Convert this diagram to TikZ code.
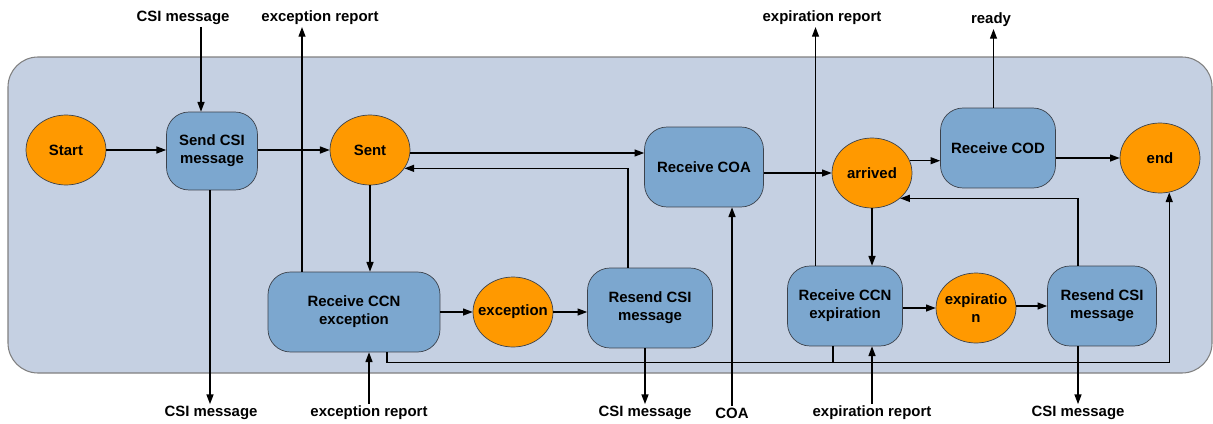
\documentclass[tikz,border=0pt]{standalone}
\usepackage{fontspec}
\setmainfont{Liberation Sans}
\usepackage{xcolor}
\usetikzlibrary{shapes.geometric,arrows.meta,calc}

\definecolor{stateorange}{RGB}{255,153,0}
\definecolor{taskblue}{RGB}{124,167,207}
\definecolor{panelblue}{RGB}{197,208,226}
\definecolor{edgegray}{RGB}{60,66,76}

\begin{document}
\begin{tikzpicture}[
    x=0.02cm, y=-0.02cm,
    txt/.style={font=\fontsize{8.5}{10.2}\selectfont\bfseries},
    state/.style={ellipse, draw=edgegray, fill=stateorange, minimum width=1.6cm, minimum height=1.4cm, inner xsep=-0.2cm, inner ysep=0pt, align=center, txt},
    task/.style={rectangle, draw=edgegray, fill=taskblue, rounded corners=0.45cm, minimum width=#1, minimum height=1.6cm, align=center, txt},
    task/.default=2.3cm,
    lbl/.style={inner sep=1pt, txt},
    arr/.style={-{Triangle[length=5.5pt,width=4pt]}, line width=0.7pt},
    link/.style={line width=0.7pt}
]
    \useasboundingbox (0,0) rectangle (1213,423);

    % Panel
    \draw[draw=gray, fill=panelblue, rounded corners=0.6cm, line width=0.6pt] (8,57) rectangle (1212,373);

    % Row 1 — main flow
    \node[state]                            (start)   at (66,150)   {Start};
    \node[task=1.82cm, minimum height=1.56cm] (sendcsi) at (212,151) {Send CSI\\message};
    \node[state]                            (sent)    at (370,150)  {Sent};
    \node[task=2.38cm]                      (recvcoa) at (704,167)  {Receive COA};
    \node[state]                            (arrived) at (872,173)  {arrived};
    \node[task=2.3cm]                       (recvcod) at (998,148)  {Receive COD};
    \node[state]                            (endst)   at (1160,158) {end};

    % Row 2 — exception / expiration handling
    \node[task=3.44cm] (ccnexc)  at (354,312)  {Receive CCN\\exception};
    \node[state]       (exc)     at (513,312)  {exception};
    \node[task=2.5cm]  (resend1) at (650,308)  {Resend CSI\\message};
    \node[task=2.3cm]  (ccnexp)  at (845,306)  {Receive CCN\\expiration};
    \node[state]       (expir)   at (976,308)  {expiratio\\n};
    \node[task=2.18cm] (resend2) at (1102,306) {Resend CSI\\message};

    % Outside messages
    \node[lbl] (csiin)     at (183,18)   {CSI message};
    \node[lbl] (excrepout) at (320,18)   {exception report};
    \node[lbl] (exprepout) at (822,18)   {expiration report};
    \node[lbl] (readyout)  at (991,20)   {ready};
    \node[lbl] (csiout1)   at (211,413)  {CSI message};
    \node[lbl] (excrepin)  at (369,413)  {exception report};
    \node[lbl] (csiout2)   at (645,413)  {CSI message};
    \node[lbl] (coain)     at (732,413)  {COA};
    \node[lbl] (exprepin)  at (872,413)  {expiration report};
    \node[lbl] (csiout3)   at (1078,413) {CSI message};

    % Row 1 arrows
    \draw[arr] (start.east) -- (start.east -| sendcsi.west);
    \draw[arr] (sendcsi.east |- sent.west) -- (sent.west);
    \draw[arr] ([yshift=-1.7pt]sent.east) -- ([yshift=-1.7pt]sent.east -| recvcoa.west);
    \draw[arr] (recvcoa.east |- arrived.west) -- (arrived.west);
    \draw[arr] (arrived.18) -- (arrived.18 -| recvcod.west);
    \draw[arr] (recvcod.east |- endst.west) -- (endst.west);

    % Row 1 -> row 2
    \draw[arr] (sent.south) -- (sent.south |- ccnexc.north);
    \draw[arr] (arrived.south) -- (arrived.south |- ccnexp.north);

    % Row 2 arrows
    \draw[arr] (ccnexc.east) -- (exc.west);
    \draw[arr] (exc.east) -- (exc.east -| resend1.west);
    \draw[arr] (ccnexp.east |- expir.west) -- (expir.west);
    \draw[arr] (expir.east |- resend2.west) -- (resend2.west);

    % Resend loops back
    \draw[arr] ($(resend1.north)+(-22,0)$) |- (sent.-28);
    \draw[arr] ($(resend2.north)+(-24,0)$) |- (arrived.-42);

    % Bottom line to end
    \draw[arr] ($(ccnexc.south)+(33,0)$) -- ++(0,10) -| (endst.-75);
    \draw[link] ($(ccnexp.south)+(-12,0)$) -- ++(0,16);

    % Messages in and out
    \draw[arr] ([xshift=-0.22cm]sendcsi.north |- csiin.south) -- ([xshift=-0.22cm]sendcsi.north);
    \draw[arr] ([xshift=-1.04cm]ccnexc.north) -- ([xshift=-1.04cm]ccnexc.north |- excrepout.south);
    \draw[arr] ([xshift=-0.59cm]ccnexp.north) -- ([xshift=-0.59cm]ccnexp.north |- exprepout.south);
    \draw[arr] ([xshift=-0.09cm]recvcod.north) -- ([xshift=-0.09cm]recvcod.north |- readyout.south);
    \draw[arr] ([xshift=-0.04cm]sendcsi.south) -- ([xshift=-0.04cm]sendcsi.south |- csiout1.north);
    \draw[arr] (excrepin.north) -- (excrepin.north |- ccnexc.south);
    \draw[arr] (csiout2.north |- resend1.south) -- (csiout2.north);
    \draw[arr] (coain.north) -- (coain.north |- recvcoa.south);
    \draw[arr] (exprepin.north) -- (exprepin.north |- ccnexp.south);
    \draw[arr] (csiout3.north |- resend2.south) -- (csiout3.north);

\end{tikzpicture}
\end{document}
